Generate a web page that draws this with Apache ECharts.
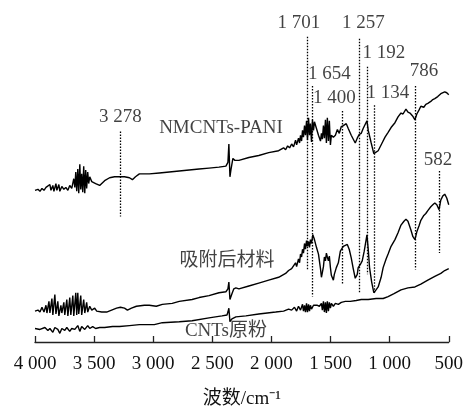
<!DOCTYPE html>
<html>
<head>
<meta charset="utf-8">
<script src="https://cdn.jsdelivr.net/npm/echarts@6/dist/echarts.min.js"></script>
<style>
  html, body { margin: 0; padding: 0; background: #fff; }
  #chart { width: 466px; height: 414px; }
</style>
</head>
<body>
<div id="chart"></div>
<script>
// FTIR spectra: [wavenumber (cm-1), transmittance (a.u., vertically offset)]
const pani = [
  [4000,157],[3975,158],[3958,156],[3941,159],[3924,157],[3907,160],[3891,158],[3874,163],[3865,157],[3849,162],
  [3840,156],[3823,164],[3815,157],[3798,163],[3790,156],[3773,161],[3756,158],[3739,160],[3722,157],[3706,162],
  [3689,159],[3672,169],[3663,160],[3655,176],[3647,156],[3638,179],[3630,154],[3621,184],[3613,158],[3605,174],
  [3596,155],[3588,182],[3579,154],[3571,178],[3563,159],[3554,176],[3546,164],[3537,171],[3520,166],[3504,168],
  [3487,164],[3453,162],[3411,167],[3369,170],[3327,171],[3243,171],[3201,170],[3176,168],[3150,171],[3117,174],
  [3033,174],[2948,175],[2864,176],[2780,177],[2696,178],[2612,179],[2528,180],[2444,181],[2385,182],[2368,186],
  [2360,205],[2351,171],[2343,178],[2326,190],[2309,188],[2275,188],[2191,191],[2107,193],[2023,196],[1939,198],
  [1897,201],[1880,199],[1863,203],[1846,201],[1829,205],[1813,202],[1796,209],[1787,204],[1771,211],[1762,206],
  [1754,214],[1745,208],[1737,219],[1729,212],[1720,224],[1712,214],[1703,229],[1695,209],[1686,232],[1678,214],
  [1670,226],[1661,207],[1653,230],[1644,219],[1636,228],[1628,229],[1619,221],[1602,214],[1585,208],[1577,216],
  [1569,210],[1560,224],[1552,211],[1543,230],[1535,206],[1527,232],[1518,208],[1510,229],[1501,204],[1493,214],
  [1476,212],[1459,214],[1442,220],[1426,216],[1409,223],[1392,224],[1367,226],[1350,221],[1325,214],[1291,206],
  [1274,211],[1257,215],[1240,216],[1224,221],[1192,229],[1181,219],[1156,206],[1134,195],[1097,198],[1064,206],
  [1039,212],[1013,217],[988,222],[955,227],[929,233],[904,237],[887,236],[862,241],[845,238],[828,237],
  [806,234],[786,230],[770,236],[752,240],[736,244],[711,243],[694,246],[677,247],[652,249],[635,251],
  [618,252],[593,254],[567,257],[551,258],[534,259],[517,258],[500,256]
];

const adsorbed = [
  [4000,32],[3975,33],[3958,31],[3941,36],[3924,31],[3907,38],[3899,30],[3882,42],[3874,30],[3857,45],
  [3849,28],[3832,49],[3823,29],[3807,42],[3798,27],[3781,38],[3773,30],[3756,41],[3748,28],[3731,44],
  [3722,27],[3706,46],[3697,28],[3680,48],[3672,27],[3655,51],[3647,28],[3638,51],[3630,29],[3613,48],
  [3605,28],[3588,44],[3579,30],[3563,41],[3554,31],[3537,37],[3520,33],[3495,35],[3478,32],[3436,31],
  [3394,31],[3352,33],[3310,35],[3277,36],[3243,35],[3218,33],[3184,35],[3142,37],[3075,38],[3033,38],
  [2974,37],[2923,39],[2839,40],[2780,42],[2671,44],[2612,46],[2528,48],[2444,51],[2385,52],[2368,55],
  [2360,62],[2351,44],[2334,50],[2318,55],[2301,56],[2275,55],[2191,58],[2107,61],[2023,64],[1939,67],
  [1880,71],[1855,74],[1829,76],[1813,75],[1796,82],[1787,78],[1771,86],[1762,82],[1754,91],[1745,88],
  [1737,96],[1729,92],[1720,102],[1712,96],[1703,105],[1695,99],[1686,104],[1678,98],[1670,106],[1661,102],
  [1650,111],[1636,106],[1619,98],[1602,91],[1585,76],[1577,67],[1569,72],[1560,78],[1552,88],[1543,84],
  [1535,92],[1527,88],[1518,84],[1510,89],[1501,77],[1493,69],[1476,64],[1468,70],[1459,68],[1451,77],
  [1434,82],[1417,94],[1409,92],[1392,99],[1375,100],[1358,101],[1342,96],[1325,87],[1308,76],[1291,66],
  [1274,70],[1266,77],[1249,80],[1232,84],[1215,94],[1192,111],[1181,96],[1170,77],[1152,62],[1134,51],
  [1115,54],[1097,57],[1072,67],[1055,77],[1030,86],[1013,91],[988,99],[955,106],[929,113],[904,121],
  [879,125],[862,127],[845,125],[837,124],[820,116],[803,109],[786,106],[770,114],[752,120],[736,126],
  [711,131],[694,133],[677,136],[652,140],[635,142],[618,144],[601,142],[582,137],[567,147],[551,151],
  [534,153],[517,149],[500,142]
];

const cnts = [
  [4000,14],[3958,13],[3916,15],[3891,12],[3874,14],[3849,10],[3832,15],[3807,13],[3790,9],[3773,14],
  [3748,12],[3731,15],[3706,11],[3689,14],[3663,13],[3638,17],[3621,11],[3605,16],[3579,13],[3554,17],
  [3537,14],[3512,16],[3487,14],[3453,15],[3411,15],[3344,16],[3285,16],[3201,17],[3117,18],[2991,18],
  [2923,20],[2780,21],[2671,22],[2528,25],[2418,27],[2376,28],[2368,31],[2360,35],[2351,21],[2334,24],
  [2301,26],[2216,27],[2107,29],[1964,31],[1897,32],[1855,34],[1829,33],[1805,36],[1787,32],[1771,37],
  [1754,33],[1737,39],[1729,32],[1720,38],[1712,31],[1703,40],[1695,31],[1686,39],[1678,32],[1670,38],
  [1661,34],[1644,38],[1628,36],[1611,38],[1594,37],[1577,40],[1569,33],[1560,42],[1552,31],[1543,41],
  [1535,30],[1527,42],[1518,32],[1510,41],[1501,35],[1493,40],[1476,37],[1459,40],[1434,39],[1409,41],
  [1375,42],[1333,42],[1283,43],[1240,44],[1181,44],[1114,45],[1055,45],[1013,47],[963,50],[904,54],
  [845,56],[786,57],[736,60],[677,64],[618,68],[584,70],[567,71],[534,74],[500,76]
];

// Assigned band positions (cm-1)
const peaks = [3278, 1701, 1654, 1400, 1257, 1192, 1134, 786, 582];

// Sample names
const sampleNames = ['NMCNTs-PANI', '吸附后材料', 'CNTs原粉'];

// X-axis ticks
const xTicks = { min: 500, max: 4000, step: 500 };

// ---- layout of the annotations (not data) ----
// dotted guide extent [top, bottom] in y units, label shift [dx, dy] in px
const peakLayout = [
  { top: 218, bottom: 130, dx: 0,  dy: -14 },
  { top: 316, bottom: 75,  dx: -8, dy: -14 },
  { top: 265, bottom: 47,  dx: 17, dy: -12 },
  { top: 239, bottom: 59,  dx: -8, dy: -13 },
  { top: 314, bottom: 51,  dx: 4,  dy: -16 },
  { top: 285, bottom: 70,  dx: 17, dy: -14 },
  { top: 245, bottom: 50,  dx: 14, dy: -12 },
  { top: 265, bottom: 75,  dx: 9,  dy: -15 },
  { top: 177, bottom: 92,  dx: -1, dy: -11 }
];
const nameAnchors = [[2427, 222], [2376, 84], [2385, 11]];

const FONT = '"Liberation Serif", "Times New Roman", "Noto Sans CJK SC", serif';
const INK = '#111';

function fmtNum(v) {
  const s = String(v);
  return s.length > 3 ? s.slice(0, s.length - 3) + ' ' + s.slice(-3) : s;
}

function spectrum(name, data) {
  return {
    name: name,
    type: 'line',
    data: data,
    showSymbol: false,
    symbol: 'none',
    lineStyle: { color: '#000', width: 1.4 },
    silent: true,
    z: 3
  };
}

const series = [
  spectrum(sampleNames[0], pani),
  spectrum(sampleNames[1], adsorbed),
  spectrum(sampleNames[2], cnts)
];

// dotted guides at the band positions
series[0].markLine = {
  silent: true,
  symbol: 'none',
  animation: false,
  label: { show: false },
  lineStyle: { color: '#000', width: 1.3, type: [1.5, 1.5] },
  data: peaks.map((w, i) => [
    { coord: [w, peakLayout[i].top] },
    { coord: [w, peakLayout[i].bottom] }
  ])
};

// band labels
series.push({
  type: 'scatter',
  symbolSize: 0.1,
  itemStyle: { color: 'transparent' },
  silent: true,
  z: 5,
  label: {
    show: true,
    position: 'inside',
    fontFamily: FONT,
    fontSize: 19,
    color: INK,
    formatter: p => fmtNum(p.value[0])
  },
  data: peaks.map((w, i) => ({
    value: [w, peakLayout[i].top],
    label: { offset: [peakLayout[i].dx, peakLayout[i].dy] }
  }))
});

// sample name labels
series.push({
  type: 'scatter',
  symbolSize: 0.1,
  itemStyle: { color: 'transparent' },
  silent: true,
  z: 5,
  label: {
    show: true,
    position: 'inside',
    fontFamily: FONT,
    fontSize: 19,
    color: INK,
    formatter: p => p.name
  },
  data: sampleNames.map((n, i) => ({ name: n, value: nameAnchors[i] }))
});

const chart = echarts.init(document.getElementById('chart'), null, { renderer: 'canvas' });
chart.setOption({
  animation: false,
  backgroundColor: '#fff',
  grid: { left: 35, right: 15, top: 0, bottom: 60, containLabel: false },
  xAxis: {
    type: 'value',
    inverse: true,
    min: xTicks.min,
    max: xTicks.max,
    interval: xTicks.step,
    name: '波数/cm⁻¹',
    nameLocation: 'middle',
    nameGap: 48,
    nameTextStyle: { fontFamily: FONT, fontSize: 19, color: INK },
    axisLine: { lineStyle: { color: '#222', width: 1.3 } },
    axisTick: { inside: true, length: 6, lineStyle: { color: '#222', width: 1.3 } },
    axisLabel: { margin: 13, fontFamily: FONT, fontSize: 19, color: INK, formatter: v => fmtNum(v) },
    splitLine: { show: false }
  },
  yAxis: {
    type: 'value',
    min: 0,
    max: 354,
    show: false,
    splitLine: { show: false }
  },
  series: series
});
</script>
</body>
</html>
